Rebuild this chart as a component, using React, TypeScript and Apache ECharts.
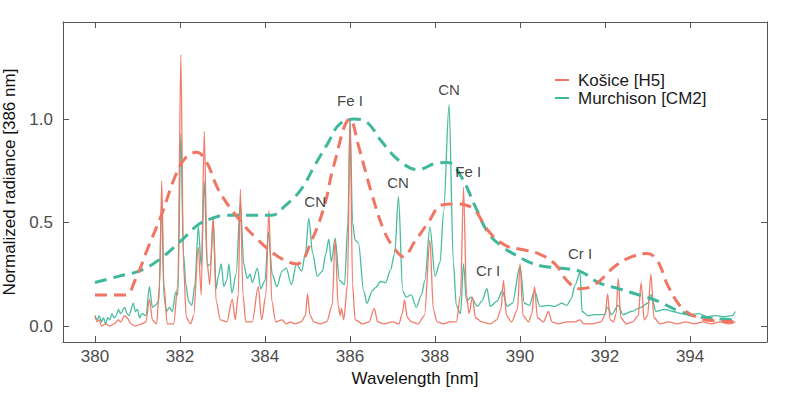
import React, { useEffect, useRef } from "react";
import * as echarts from "echarts";

// Košice [H5] spectrum: [wavelength nm, normalized radiance]
const kosice: [number, number][] = [
  [380.0, 0.05], [380.05, 0.02], [380.1, 0.03], [380.15, 0.0], [380.25, 0.01], [380.35, 0.0], [380.45, 0.01],
  [380.55, 0.03], [380.6, 0.02], [380.7, 0.05], [380.75, 0.04], [380.85, 0.01], [380.95, 0.0], [381.1, 0.01],
  [381.2, 0.02], [381.28, 0.13], [381.35, 0.03], [381.45, 0.01], [381.52, 0.2], [381.57, 0.7], [381.62, 0.2],
  [381.7, 0.01], [381.85, 0.01], [381.95, 0.2], [382.02, 1.31], [382.08, 0.3], [382.15, 0.04], [382.25, 0.01],
  [382.32, 0.05], [382.43, 0.38], [382.5, 0.15], [382.57, 0.94], [382.64, 0.3], [382.7, 0.2], [382.78, 0.53],
  [382.85, 0.12], [382.95, 0.03], [383.1, 0.02], [383.23, 0.13], [383.3, 0.03], [383.37, 0.15], [383.42, 0.66],
  [383.48, 0.15], [383.55, 0.02], [383.7, 0.02], [383.84, 0.19], [383.92, 0.03], [384.02, 0.15], [384.09, 0.56],
  [384.16, 0.12], [384.25, 0.02], [384.4, 0.03], [384.5, 0.01], [384.6, 0.02], [384.7, 0.01], [384.85, 0.02],
  [384.95, 0.05], [385.0, 0.155], [385.06, 0.05], [385.15, 0.02], [385.3, 0.01], [385.45, 0.02], [385.58, 0.1],
  [385.65, 0.42], [385.72, 0.1], [385.77, 0.05], [385.8, 0.085], [385.85, 0.03], [385.94, 0.2], [386.0, 1.0],
  [386.06, 0.2], [386.12, 0.03], [386.3, 0.01], [386.45, 0.02], [386.57, 0.085], [386.65, 0.02], [386.8, 0.01],
  [387.0, 0.02], [387.15, 0.01], [387.23, 0.06], [387.28, 0.125], [387.35, 0.04], [387.45, 0.02], [387.6, 0.01],
  [387.75, 0.05], [387.88, 0.415], [387.96, 0.08], [388.05, 0.02], [388.2, 0.01], [388.35, 0.02], [388.5, 0.02],
  [388.6, 0.15], [388.67, 0.67], [388.74, 0.15], [388.8, 0.06], [388.88, 0.14], [388.95, 0.04], [389.1, 0.02],
  [389.3, 0.01], [389.45, 0.03], [389.55, 0.08], [389.61, 0.22], [389.68, 0.05], [389.8, 0.02], [389.94, 0.08],
  [390.0, 0.3], [390.07, 0.05], [390.2, 0.02], [390.28, 0.06], [390.34, 0.19], [390.41, 0.04], [390.55, 0.02],
  [390.67, 0.07], [390.75, 0.02], [390.9, 0.01], [391.1, 0.02], [391.3, 0.02], [391.41, 0.03], [391.5, 0.01],
  [391.7, 0.01], [391.9, 0.02], [392.0, 0.05], [392.06, 0.155], [392.12, 0.03], [392.2, 0.02], [392.26, 0.06],
  [392.31, 0.23], [392.37, 0.04], [392.5, 0.01], [392.65, 0.02], [392.78, 0.05], [392.85, 0.21], [392.92, 0.03],
  [393.0, 0.05], [393.08, 0.25], [393.15, 0.04], [393.3, 0.01], [393.5, 0.02], [393.7, 0.01], [393.9, 0.02],
  [394.1, 0.01], [394.3, 0.02], [394.5, 0.01], [394.7, 0.02], [394.9, 0.01], [395.06, 0.02],
];

// Murchison [CM2] spectrum
const murchison: [number, number][] = [
  [380.0, 0.05], [380.05, 0.03], [380.1, 0.05], [380.15, 0.02], [380.2, 0.04], [380.25, 0.01], [380.3, 0.04],
  [380.35, 0.03], [380.4, 0.06], [380.45, 0.04], [380.5, 0.05], [380.55, 0.08], [380.6, 0.06], [380.7, 0.09],
  [380.75, 0.06], [380.8, 0.05], [380.9, 0.11], [380.95, 0.07], [381.0, 0.08], [381.05, 0.04], [381.1, 0.06],
  [381.2, 0.05], [381.28, 0.19], [381.35, 0.09], [381.42, 0.1], [381.5, 0.12], [381.57, 0.6], [381.62, 0.15],
  [381.68, 0.07], [381.75, 0.09], [381.82, 0.07], [381.9, 0.165], [381.95, 0.15], [382.02, 0.93], [382.08, 0.35],
  [382.14, 0.2], [382.2, 0.12], [382.28, 0.1], [382.35, 0.2], [382.43, 0.48], [382.5, 0.29], [382.57, 0.7],
  [382.64, 0.29], [382.72, 0.3], [382.78, 0.51], [382.85, 0.18], [382.9, 0.24], [382.97, 0.3], [383.03, 0.19],
  [383.1, 0.22], [383.15, 0.3], [383.22, 0.16], [383.32, 0.25], [383.42, 0.6], [383.5, 0.3], [383.58, 0.23],
  [383.65, 0.25], [383.7, 0.21], [383.82, 0.28], [383.9, 0.18], [384.0, 0.22], [384.08, 0.455], [384.17, 0.25],
  [384.28, 0.19], [384.4, 0.265], [384.5, 0.28], [384.62, 0.2], [384.74, 0.3], [384.86, 0.265], [384.95, 0.35],
  [385.03, 0.52], [385.12, 0.35], [385.23, 0.24], [385.35, 0.265], [385.43, 0.35], [385.5, 0.42], [385.56, 0.31],
  [385.65, 0.425], [385.75, 0.22], [385.87, 0.2], [385.95, 0.5], [386.0, 1.0], [386.06, 0.5], [386.12, 0.415],
  [386.2, 0.4], [386.32, 0.17], [386.4, 0.11], [386.52, 0.17], [386.6, 0.185], [386.72, 0.215], [386.84, 0.21],
  [386.95, 0.27], [387.05, 0.35], [387.14, 0.625], [387.24, 0.17], [387.32, 0.14], [387.44, 0.15], [387.56, 0.09],
  [387.68, 0.15], [387.76, 0.22], [387.88, 0.48], [388.0, 0.24], [388.12, 0.31], [388.2, 0.55], [388.33, 1.07],
  [388.43, 0.31], [388.5, 0.1], [388.6, 0.06], [388.67, 0.3], [388.74, 0.12], [388.85, 0.14], [389.0, 0.095],
  [389.1, 0.12], [389.22, 0.18], [389.3, 0.095], [389.46, 0.12], [389.58, 0.17], [389.7, 0.095], [389.82, 0.11],
  [390.0, 0.29], [390.1, 0.11], [390.22, 0.1], [390.34, 0.17], [390.47, 0.095], [390.67, 0.1], [390.82, 0.095],
  [390.98, 0.11], [391.1, 0.1], [391.2, 0.13], [391.3, 0.2], [391.41, 0.26], [391.46, 0.07], [391.6, 0.05],
  [391.76, 0.055], [391.98, 0.055], [392.06, 0.09], [392.15, 0.055], [392.31, 0.1], [392.42, 0.055], [392.62, 0.07],
  [392.85, 0.09], [393.0, 0.11], [393.08, 0.15], [393.2, 0.07], [393.4, 0.08], [393.6, 0.07], [393.8, 0.06],
  [394.0, 0.055], [394.2, 0.06], [394.4, 0.045], [394.6, 0.05], [394.8, 0.045], [395.0, 0.05], [395.06, 0.07],
];

// Smoothed envelopes (dashed)
const kosiceSmooth: [number, number][] = [
  [380.0, 0.15], [380.71, 0.15], [380.94, 0.22], [381.25, 0.38], [381.57, 0.54], [381.88, 0.72], [382.12, 0.81],
  [382.39, 0.84], [382.63, 0.79], [382.9, 0.66], [383.37, 0.52], [383.84, 0.415], [384.31, 0.335], [384.75, 0.3],
  [385.1, 0.415], [385.41, 0.59], [385.61, 0.77], [386.0, 1.0], [386.2, 0.87], [386.51, 0.64], [386.82, 0.45],
  [387.06, 0.37], [387.25, 0.335], [387.53, 0.41], [387.84, 0.5], [388.16, 0.585], [388.47, 0.59], [388.71, 0.585],
  [388.94, 0.56], [389.25, 0.46], [389.65, 0.39], [390.04, 0.37], [390.43, 0.35], [390.82, 0.3], [391.1, 0.22],
  [391.4, 0.18], [391.76, 0.2], [392.24, 0.29], [392.63, 0.335], [392.98, 0.35], [393.22, 0.32], [393.49, 0.19],
  [393.8, 0.09], [394.19, 0.04], [394.59, 0.025], [395.06, 0.02],
];

const murchisonSmooth: [number, number][] = [
  [380.0, 0.21], [380.55, 0.24], [381.1, 0.27], [381.57, 0.33], [382.04, 0.415], [382.43, 0.49], [382.75, 0.52],
  [383.06, 0.535], [383.6, 0.535], [384.16, 0.535], [384.47, 0.58], [384.85, 0.66], [385.18, 0.78], [385.47, 0.88],
  [385.75, 0.975], [386.1, 1.0], [386.4, 0.985], [386.75, 0.89], [387.15, 0.8], [387.6, 0.755], [388.0, 0.785],
  [388.3, 0.79], [388.62, 0.72], [388.94, 0.58], [389.25, 0.45], [389.57, 0.385], [389.88, 0.345], [390.2, 0.31],
  [390.5, 0.29], [390.9, 0.28], [391.4, 0.265], [391.85, 0.21], [392.32, 0.18], [392.8, 0.15], [393.24, 0.12],
  [393.71, 0.075], [394.18, 0.045], [394.65, 0.035], [395.06, 0.03],
];

// Line annotations: label, wavelength, height
const annotationLabels = ["CN", "Fe I", "CN", "CN", "Fe I", "Cr I", "Cr I"];
const annotationX = [385.18, 386.0, 387.13, 388.33, 388.78, 389.25, 391.41];
const annotationY = [0.6, 1.09, 0.695, 1.145, 0.745, 0.27, 0.35];

const xTicks = [380, 382, 384, 386, 388, 390, 392, 394];
const yTicks = [0, 0.5, 1.0];

const RED = "#F07563";
const TEAL = "#3DB89A";
const FONT = "Liberation Sans, Arial, Helvetica, sans-serif";

export default function App() {
  const ref = useRef<HTMLDivElement>(null);
  useEffect(() => {
    document.body.style.margin = "0";
    const chart = echarts.init(ref.current!, null, { renderer: "svg" });
    const xMin = 379.247;
    const xMax = 395.81;
    const yMin = -0.0773;
    const yMax = 1.469;
    const tickStyle = { show: true, inside: true, length: 6, lineStyle: { color: "#555", width: 1 } };
    const axisLine = { show: true, onZero: false, lineStyle: { color: "#555", width: 1 } };
    chart.setOption({
      animation: false,
      textStyle: { fontFamily: FONT },
      grid: {
        left: 63,
        right: 22,
        top: 22,
        bottom: 53,
        show: false,
        containLabel: false,
        outerBoundsMode: "none",
      },
      legend: {
        orient: "vertical",
        left: 550,
        top: 66,
        itemWidth: 14,
        itemHeight: 2,
        itemGap: 0,
        icon: "rect",
        data: ["Košice [H5]", "Murchison [CM2]"],
        textStyle: { fontSize: 17, color: "#1a1a1a", fontFamily: FONT, lineHeight: 18, padding: [0, 0, 0, 4] },
      },
      xAxis: [
        {
          type: "value",
          min: xMin,
          max: xMax,
          position: "bottom",
          axisLine,
          splitLine: { show: false },
          axisTick: { ...tickStyle, customValues: xTicks },
          axisLabel: { customValues: xTicks, fontSize: 17, color: "#4d4d4d", margin: 6, fontFamily: FONT },
          name: "Wavelength [nm]",
          nameLocation: "middle",
          nameGap: 28,
          nameTextStyle: { fontSize: 17, color: "#111", fontFamily: FONT },
        },
        {
          type: "value",
          min: xMin,
          max: xMax,
          position: "top",
          axisLine,
          splitLine: { show: false },
          axisTick: { ...tickStyle, customValues: xTicks },
          axisLabel: { show: false },
        },
      ],
      yAxis: [
        {
          type: "value",
          min: yMin,
          max: yMax,
          position: "left",
          axisLine,
          splitLine: { show: false },
          axisTick: { ...tickStyle, customValues: yTicks },
          axisLabel: {
            customValues: yTicks,
            fontSize: 17,
            color: "#4d4d4d",
            margin: 10,
            fontFamily: FONT,
            formatter: (v: number) => v.toFixed(1),
          },
          name: "Normalized radiance [386 nm]",
          nameLocation: "middle",
          nameGap: 45,
          nameTextStyle: { fontSize: 17, color: "#111", fontFamily: FONT },
        },
        {
          type: "value",
          min: yMin,
          max: yMax,
          position: "right",
          axisLine,
          splitLine: { show: false },
          axisTick: { ...tickStyle, customValues: yTicks },
          axisLabel: { show: false },
        },
      ],
      series: [
        {
          name: "Murchison [CM2]",
          type: "line",
          data: murchison,
          symbol: "none",
          smooth: 0.3,
          smoothMonotone: "x",
          itemStyle: { color: TEAL },
          lineStyle: { color: TEAL, width: 1.3, opacity: 0.95 },
          z: 2,
        },
        {
          name: "Košice [H5]",
          type: "line",
          data: kosice,
          symbol: "none",
          smooth: 0.3,
          smoothMonotone: "x",
          itemStyle: { color: RED },
          lineStyle: { color: RED, width: 1.3, opacity: 0.95 },
          z: 3,
        },
        {
          name: "Murchison smooth",
          type: "line",
          data: murchisonSmooth,
          symbol: "none",
          smooth: 0.4,
          lineStyle: { color: TEAL, width: 3, type: [12, 7], cap: "butt" },
          z: 4,
        },
        {
          name: "Košice smooth",
          type: "line",
          data: kosiceSmooth,
          symbol: "none",
          smooth: 0.4,
          lineStyle: { color: RED, width: 3, type: [12, 7], cap: "butt" },
          z: 5,
        },
        {
          name: "labels",
          type: "scatter",
          symbolSize: 0,
          silent: true,
          z: 6,
          data: annotationLabels.map((t, i) => ({ name: t, value: [annotationX[i], annotationY[i]] })),
          label: {
            show: true,
            position: "inside",
            formatter: "{b}",
            fontSize: 15,
            color: "#111",
            fontFamily: FONT,
          },
        },
      ],
    });
    return () => chart.dispose();
  }, []);
  return <div ref={ref} style={{ width: 789, height: 395 }} />;
}
